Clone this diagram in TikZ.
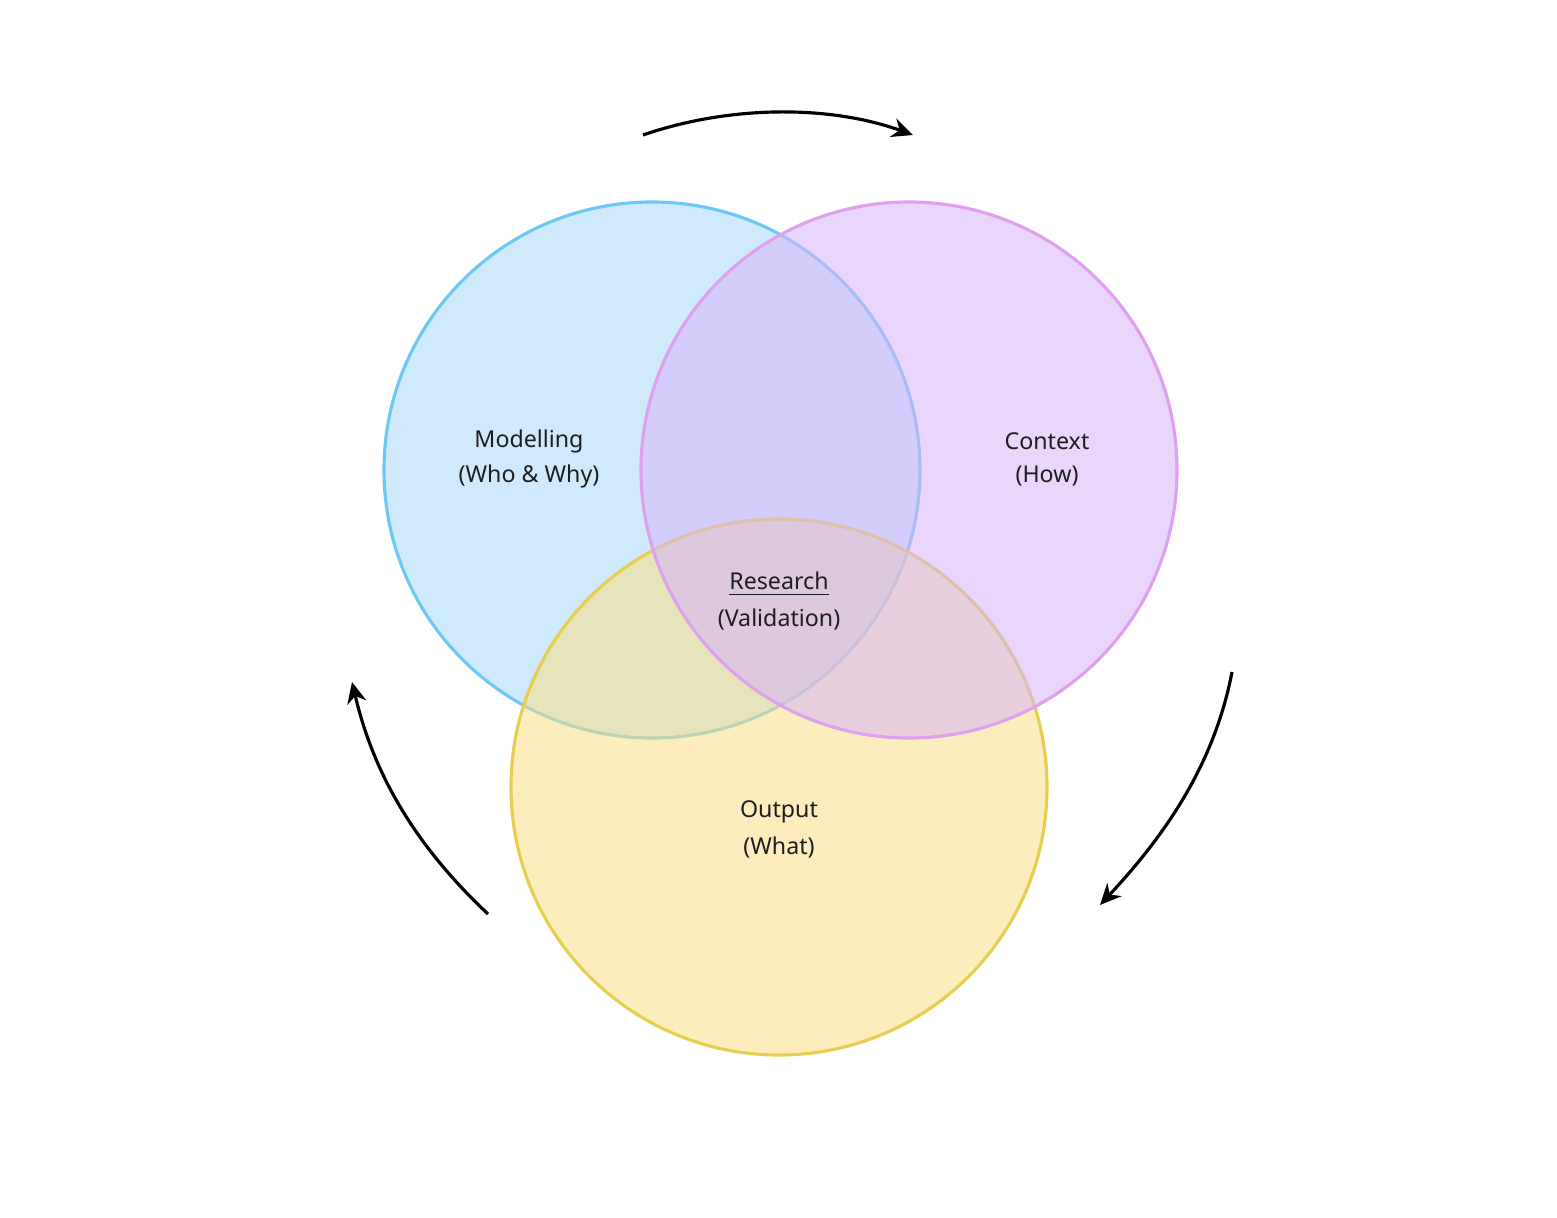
\documentclass[tikz,border=0pt]{standalone}
\usepackage{fontspec}
\setmainfont{Noto Sans}
\usepackage{xcolor}
\usetikzlibrary{arrows.meta}
\definecolor{modfill}{HTML}{A8D8FA}
\definecolor{modline}{HTML}{6EC8F5}
\definecolor{ctxfill}{HTML}{D8B4FA}
\definecolor{ctxline}{HTML}{E0A0F0}
\definecolor{outfill}{HTML}{FCDF86}
\definecolor{outline}{HTML}{E6CF50}
\definecolor{txt}{HTML}{1E1E1E}

\begin{document}
\begin{tikzpicture}[x=0.01cm,y=-0.01cm]
        \tikzstyle{every node}=[text=txt,font=\fontsize{6.6}{8}\selectfont]
        \tikzstyle{venn}=[line width=0.9pt,fill opacity=0.55]
        \tikzstyle{cycle}=[line width=0.9pt,-{Stealth[length=6pt,width=5.5pt]}]
        \useasboundingbox (0,0) rectangle (1557,1218);

        \draw[venn,draw=modline,fill=modfill] (652,470) circle (268);
        \draw[venn,draw=outline,fill=outfill] (779,787) circle (268);
        \draw[venn,draw=ctxline,fill=ctxfill] (909,470) circle (268);

        \node (mod) at (529,441) {\textbf{Modelling}};
        \node (modsub) at (529,476) {(Who \& Why)};
        \node (ctx) at (1047,441) {\textbf{Context}};
        \node (ctxsub) at (1047,476) {(How)};
        \node (res) at (779,584) {\underline{\textbf{Research}}};
        \node (ressub) at (779,620) {(Validation)};
        \node (out) at (779,812) {\textbf{Output}};
        \node (outsub) at (779,848) {(What)};

        \coordinate (t1) at (643,135);
        \coordinate (t2) at (913,135);
        \coordinate (r1) at (1232,672);
        \coordinate (r2) at (1100,905);
        \coordinate (l1) at (488,914);
        \coordinate (l2) at (352,682);

        \draw[cycle] (t1) .. controls (730,105) and (830,105) .. (t2);
        \draw[cycle] (r1) .. controls (1215,760) and (1170,830) .. (r2);
        \draw[cycle] (l1) .. controls (420,850) and (375,780) .. (l2);
    \end{tikzpicture}
\end{document}
